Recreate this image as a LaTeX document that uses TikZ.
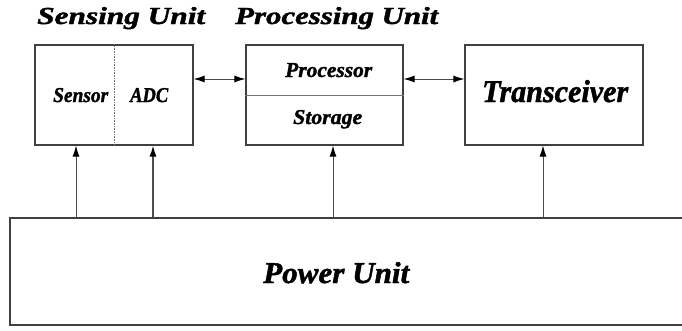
\documentclass[tikz,border=0pt]{standalone}
\usepackage{fontspec}
\setmainfont[BoldItalicFeatures={FakeBold=1.5}]{Liberation Serif}
\usepackage{graphicx}
\usetikzlibrary{arrows.meta}
\newcommand{\rtxt}[3]{\resizebox{#1pt}{#2pt}{\bfseries\itshape #3}}
\begin{document}
\begin{tikzpicture}[x=1pt,y=-1pt,
  box/.style={draw=black!75,line width=1.1pt,inner sep=0,minimum width=#1},
  lbl/.style={inner sep=0,anchor=base west,text=black},
  conn/.style={draw=black!70,line width=1pt},
  tip/.style={-{Latex[length=11pt,width=7pt,black]}},
  dtip/.style={{Latex[length=11pt,width=7pt,black]}-{Latex[length=11pt,width=7pt,black]}}]
\useasboundingbox (0,0) rectangle (682,330);
% boxes
\node[box=158pt,minimum height=100pt] (sense) at (114,95) {};
\node[box=157pt,minimum height=100pt] (proc) at (324.5,95) {};
\node[box=178pt,minimum height=100pt] (trx) at (554,95) {};
\node[box=700pt,minimum height=107pt] (power) at (360,271.5) {};
% dividers
\draw[draw=black!55,line width=0.6pt,densely dotted] (sense.north) -- (sense.south);
\draw[draw=black!55,line width=0.6pt] (proc.west) -- (proc.east);
% labels
\node[lbl] (tsense) at (37,24) {\rtxt{168}{17}{Sensing Unit}};
\node[lbl] (tproc) at (235,24) {\rtxt{203}{17}{Processing Unit}};
\node[lbl] (tsensor) at (53,102) {\rtxt{55}{14}{Sensor}};
\node[lbl] (tadc) at (130,102) {\rtxt{38}{14}{ADC}};
\node[lbl] (tprocessor) at (285,77) {\rtxt{87}{14}{Processor}};
\node[lbl] (tstorage) at (293,124) {\rtxt{69}{14}{Storage}};
\node[lbl] (ttrx) at (482,102) {\rtxt{146}{22}{Transceiver}};
\node[lbl] (tpower) at (263,283) {\rtxt{146}{21}{Power Unit}};
% horizontal connectors
\coordinate (h) at (0,79);
\draw[conn,dtip] (sense.east |- h) -- (proc.west |- h);
\draw[conn,dtip] (proc.east |- h) -- (trx.west |- h);
% vertical connectors
\coordinate (v1) at (76,0);
\coordinate (v2) at (153,0);
\coordinate (v3) at (333,0);
\coordinate (v4) at (543,0);
\draw[conn,tip] (power.north -| v1) -- (sense.south -| v1);
\draw[conn,tip,line width=1.4pt] (power.north -| v2) -- (sense.south -| v2);
\draw[conn,tip] (power.north -| v3) -- (proc.south -| v3);
\draw[conn,tip,line width=0.7pt] (power.north -| v4) -- (trx.south -| v4);
\end{tikzpicture}
\end{document}
